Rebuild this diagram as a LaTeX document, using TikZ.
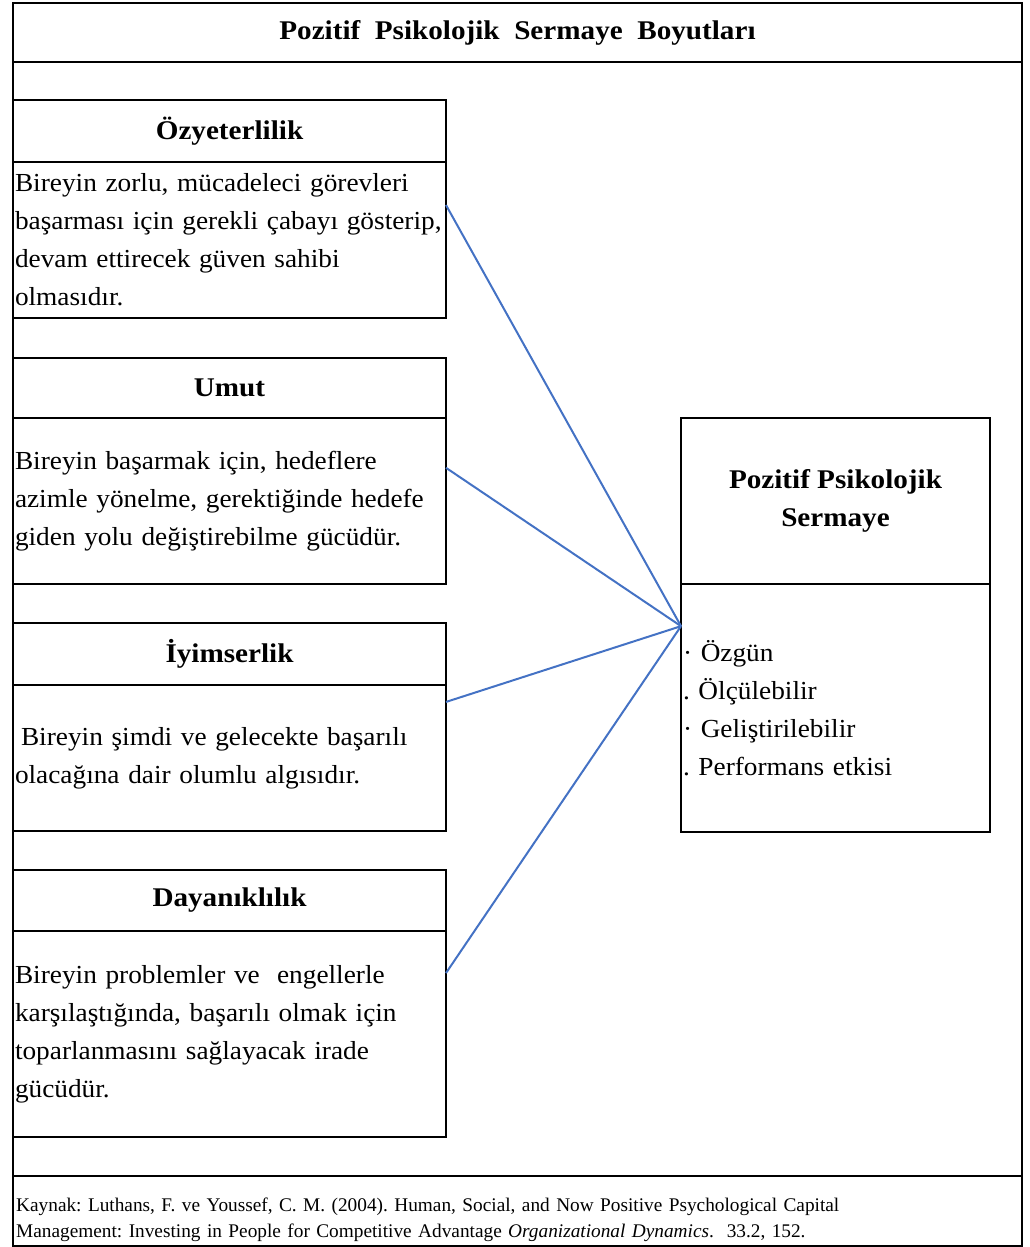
\documentclass[tikz,border=0pt]{standalone}
\usepackage{fontspec}
\setmainfont[FakeStretch=1.08]{Liberation Serif}
\newfontfamily\sourcefont{Liberation Serif}
\newfontfamily\bodyfamily[FakeStretch=1.05]{Liberation Serif}
\usepackage{xcolor}
\usetikzlibrary{positioning, calc}
\definecolor{linkblue}{RGB}{68,114,196}
\frenchspacing
\tikzstyle{frame} = [draw=black, line width=2.5pt]
\tikzstyle{head} = [rectangle, 
draw=black, 
line width=2pt, 
outer sep=0pt, 
minimum width=433pt, 
inner sep=0pt, 
anchor=north west, 
font=\fontsize{27}{38}\selectfont\bfseries]
\tikzstyle{body} = [rectangle, 
draw=black, 
line width=2pt, 
outer sep=0pt, 
minimum width=433pt, 
text width=429pt, 
inner xsep=2pt, 
inner ysep=0pt, 
align=left, 
font=\bodyfamily\fontsize{26}{38}\selectfont]
\tikzstyle{link} = [draw=linkblue, line width=2pt]

\begin{document}
\begin{tikzpicture}[x=1pt, y=-1pt]
        \useasboundingbox (0,0) rectangle (1029,1247);
        
        % outer frame
        \draw [frame] (13,3) rectangle (1022,1246);
        \draw [frame] (13,62) -- (1022,62);
        \draw [frame] (13,1176) -- (1022,1176);
        \node (title) at (517.5,33) [font=\fontsize{27}{30}\selectfont\bfseries] {Pozitif\ \ Psikolojik\ \ Sermaye\ \ Boyutları};
        
        % left column
        \node (ozHead) at (13,100) [head, minimum height=62pt] {Özyeterlilik};
        \node (ozBody) [body, below=0pt of ozHead, minimum height=156pt] {Bireyin zorlu, mücadeleci görevleri\\ \mbox{başarması için gerekli çabayı gösterip,}\\ devam ettirecek güven sahibi\\ olmasıdır.};
        
        \node (umHead) [head, below=40pt of ozBody, minimum height=60pt] {Umut};
        \node (umBody) [body, below=0pt of umHead, minimum height=166pt] {Bireyin başarmak için, hedeflere\\ \mbox{azimle yönelme, gerektiğinde hedefe}\\ giden yolu değiştirebilme gücüdür.};
        
        \node (iyHead) [head, below=39pt of umBody, minimum height=62pt] {İyimserlik};
        \node (iyBody) [body, below=0pt of iyHead, minimum height=146pt] {\hspace*{6pt}Bireyin şimdi ve gelecekte başarılı\\ olacağına dair olumlu algısıdır.};
        
        \node (dyHead) [head, below=39pt of iyBody, minimum height=61pt] {Dayanıklılık};
        \node (dyBody) [body, below=0pt of dyHead, minimum height=206pt] {Bireyin problemler ve\ \ engellerle\\ karşılaştığında, başarılı olmak için\\ toparlanmasını sağlayacak irade\\ gücüdür.};
        
        % right box
        \node (psHead) at (681,418) [head, minimum width=309pt, minimum height=166pt, align=center] {Pozitif Psikolojik\\ Sermaye};
        \node (psBody) [body, below=0pt of psHead, minimum width=309pt, text width=305pt, minimum height=248pt] {· Özgün\\ . Ölçülebilir\\ · Geliştirilebilir\\ . Performans etkisi};
        
        % source
        \node (source) at (13,1198) [anchor=north west, text width=1003pt, inner xsep=3pt, inner ysep=0pt, align=left, font=\sourcefont\fontsize{19.3}{26}\selectfont] {Kaynak: Luthans, F. ve Youssef, C. M. (2004). Human, Social, and Now Positive Psychological Capital\\ Management: Investing in People for Competitive Advantage \textit{Organizational Dynamics}.\ \ 33.2, 152.};
        
        % connectors
        \coordinate (hub) at ($(psBody.north west)!0.17!(psBody.south west)$);
        \coordinate (ozOut) at ($(ozBody.north east)!0.276!(ozBody.south east)$);
        \coordinate (umOut) at ($(umBody.north east)!0.30!(umBody.south east)$);
        \coordinate (iyOut) at ($(iyBody.north east)!0.116!(iyBody.south east)$);
        \coordinate (dyOut) at ($(dyBody.north east)!0.204!(dyBody.south east)$);
        \draw [link] (ozOut) -- (hub);
        \draw [link] (umOut) -- (hub);
        \draw [link] (iyOut) -- (hub);
        \draw [link] (dyOut) -- (hub);

    \end{tikzpicture}
\end{document}
